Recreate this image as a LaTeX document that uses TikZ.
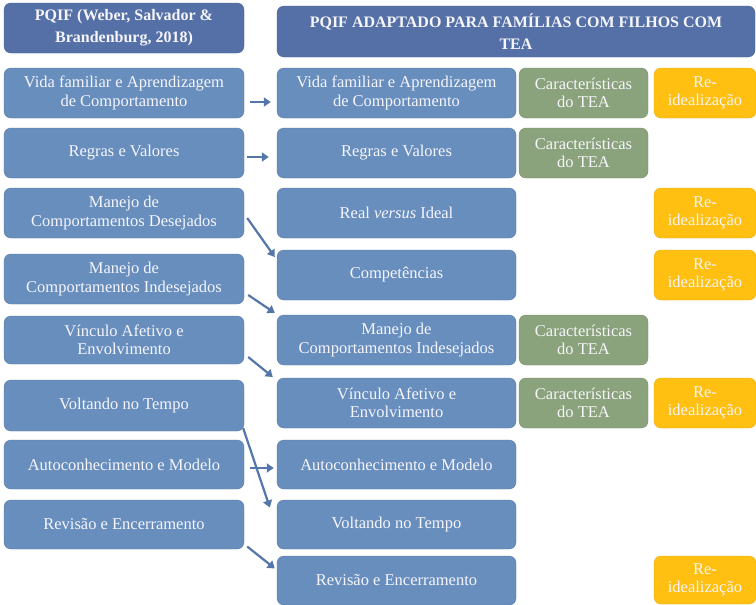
\documentclass[tikz,border=0pt]{standalone}
\usepackage{fontspec}
\setmainfont{Liberation Serif}
\usetikzlibrary{arrows.meta}
\definecolor{boxblue}{RGB}{104,142,190}
\definecolor{headblue}{RGB}{84,112,166}
\definecolor{boxgreen}{RGB}{139,163,124}
\definecolor{boxyellow}{RGB}{255,192,18}
\definecolor{arrowblue}{RGB}{84,118,170}
\definecolor{txt}{RGB}{245,245,250}
\tikzset{
  base/.style={rounded corners=7pt, text=txt, align=center, inner sep=1pt,
    font=\fontsize{16.5}{18.5}\selectfont},
  bbox/.style={base, fill=boxblue, draw=boxblue!85!black, line width=0.4pt},
  hbox/.style={base, fill=headblue, draw=headblue!85!black, line width=0.4pt,
    font=\bfseries\fontsize{16}{22}\selectfont},
  gbox/.style={base, fill=boxgreen, draw=boxgreen!85!black, line width=0.4pt},
  ybox/.style={base, fill=boxyellow, draw=boxyellow!90!black, line width=0.4pt},
  arr/.style={draw=arrowblue, line width=2.2pt, -{Triangle[length=7pt,width=9pt]}}
}
\newcommand{\bx}[7]{% style, name, x1, y1, x2, y2, text
  \node[#1, minimum width={#5-#3}, minimum height={#6-#4}] (#2) at ({(#3+#5)/2},{(#4+#6)/2}) {#7};}
\begin{document}
\begin{tikzpicture}[x=1pt,y=-1pt]
\useasboundingbox[fill=white] (0,0) rectangle (756,605);
% headers
\bx{hbox}{HL}{4}{3}{244}{53}{PQIF (Weber, Salvador \&\\Brandenburg, 2018)}
\bx{hbox}{HR}{277}{6}{755}{57}{PQIF ADAPTADO PARA FAMÍLIAS COM FILHOS COM\\TEA}
% left column
\bx{bbox}{L1}{4}{68}{244}{118}{Vida familiar e Aprendizagem\\de Comportamento}
\bx{bbox}{L2}{4}{128}{244}{178}{Regras e Valores}
\bx{bbox}{L3}{4}{188}{244}{238}{Manejo de\\Comportamentos Desejados}
\bx{bbox}{L4}{4}{254}{244}{304}{Manejo de\\Comportamentos Indesejados}
\bx{bbox}{L5}{4}{316}{244}{364}{Vínculo Afetivo e\\Envolvimento}
\bx{bbox}{L6}{4}{380}{244}{431}{Voltando no Tempo}
\bx{bbox}{L7}{4}{440}{244}{489}{Autoconhecimento e Modelo}
\bx{bbox}{L8}{4}{500}{244}{549}{Revisão e Encerramento}
% right column
\bx{bbox}{R1}{277}{68}{516}{118}{Vida familiar e Aprendizagem\\de Comportamento}
\bx{bbox}{R2}{277}{128}{516}{178}{Regras e Valores}
\bx{bbox}{R3}{277}{188}{516}{238}{Real \textit{versus} Ideal}
\bx{bbox}{R4}{277}{250}{516}{300}{Competências}
\bx{bbox}{R5}{277}{315}{516}{365}{Manejo de\\Comportamentos Indesejados}
\bx{bbox}{R6}{277}{378}{516}{428}{Vínculo Afetivo e\\Envolvimento}
\bx{bbox}{R7}{277}{440}{516}{489}{Autoconhecimento e Modelo}
\bx{bbox}{R8}{277}{500}{516}{549}{Voltando no Tempo}
\bx{bbox}{R9}{277}{556}{516}{605}{Revisão e Encerramento}
% green
\bx{gbox}{G1}{519}{68}{648}{118}{Características\\do TEA}
\bx{gbox}{G2}{519}{128}{648}{178}{Características\\do TEA}
\bx{gbox}{G5}{519}{315}{648}{365}{Características\\do TEA}
\bx{gbox}{G6}{519}{378}{648}{428}{Características\\do TEA}
% yellow
\bx{ybox}{Y1}{654}{68}{756}{118}{Re-\\idealização}
\bx{ybox}{Y3}{654}{188}{756}{238}{Re-\\idealização}
\bx{ybox}{Y4}{654}{250}{756}{300}{Re-\\idealização}
\bx{ybox}{Y6}{654}{378}{756}{428}{Re-\\idealização}
\bx{ybox}{Y9}{654}{556}{756}{604}{Re-\\idealização}
% arrows
\draw[arr] ([shift={(6,9)}]L1.east) -- ([shift={(-6,9)}]R1.west);
\draw[arr] ([shift={(3,4)}]L2.east) -- ([shift={(-8,4)}]R2.west);
\draw[arr] ([shift={(3,5)}]L3.east) -- ([shift={(-2,-18)}]R4.west);
\draw[arr] ([shift={(4,16)}]L4.east) -- ([shift={(-2,-27)}]R5.west);
\draw[arr] ([shift={(4,17)}]L5.east) -- ([shift={(-4,-26)}]R6.west);
\draw[arr] ([shift={(-1,-3)}]L6.south east) -- ([shift={(-7,-17)}]R8.west);
\draw[arr] ([shift={(6,3.5)}]L7.east) -- ([shift={(-3,3.5)}]R7.west);
\draw[arr] ([shift={(3,22)}]L8.east) -- ([shift={(-2,-12)}]R9.west);
\end{tikzpicture}
\end{document}
